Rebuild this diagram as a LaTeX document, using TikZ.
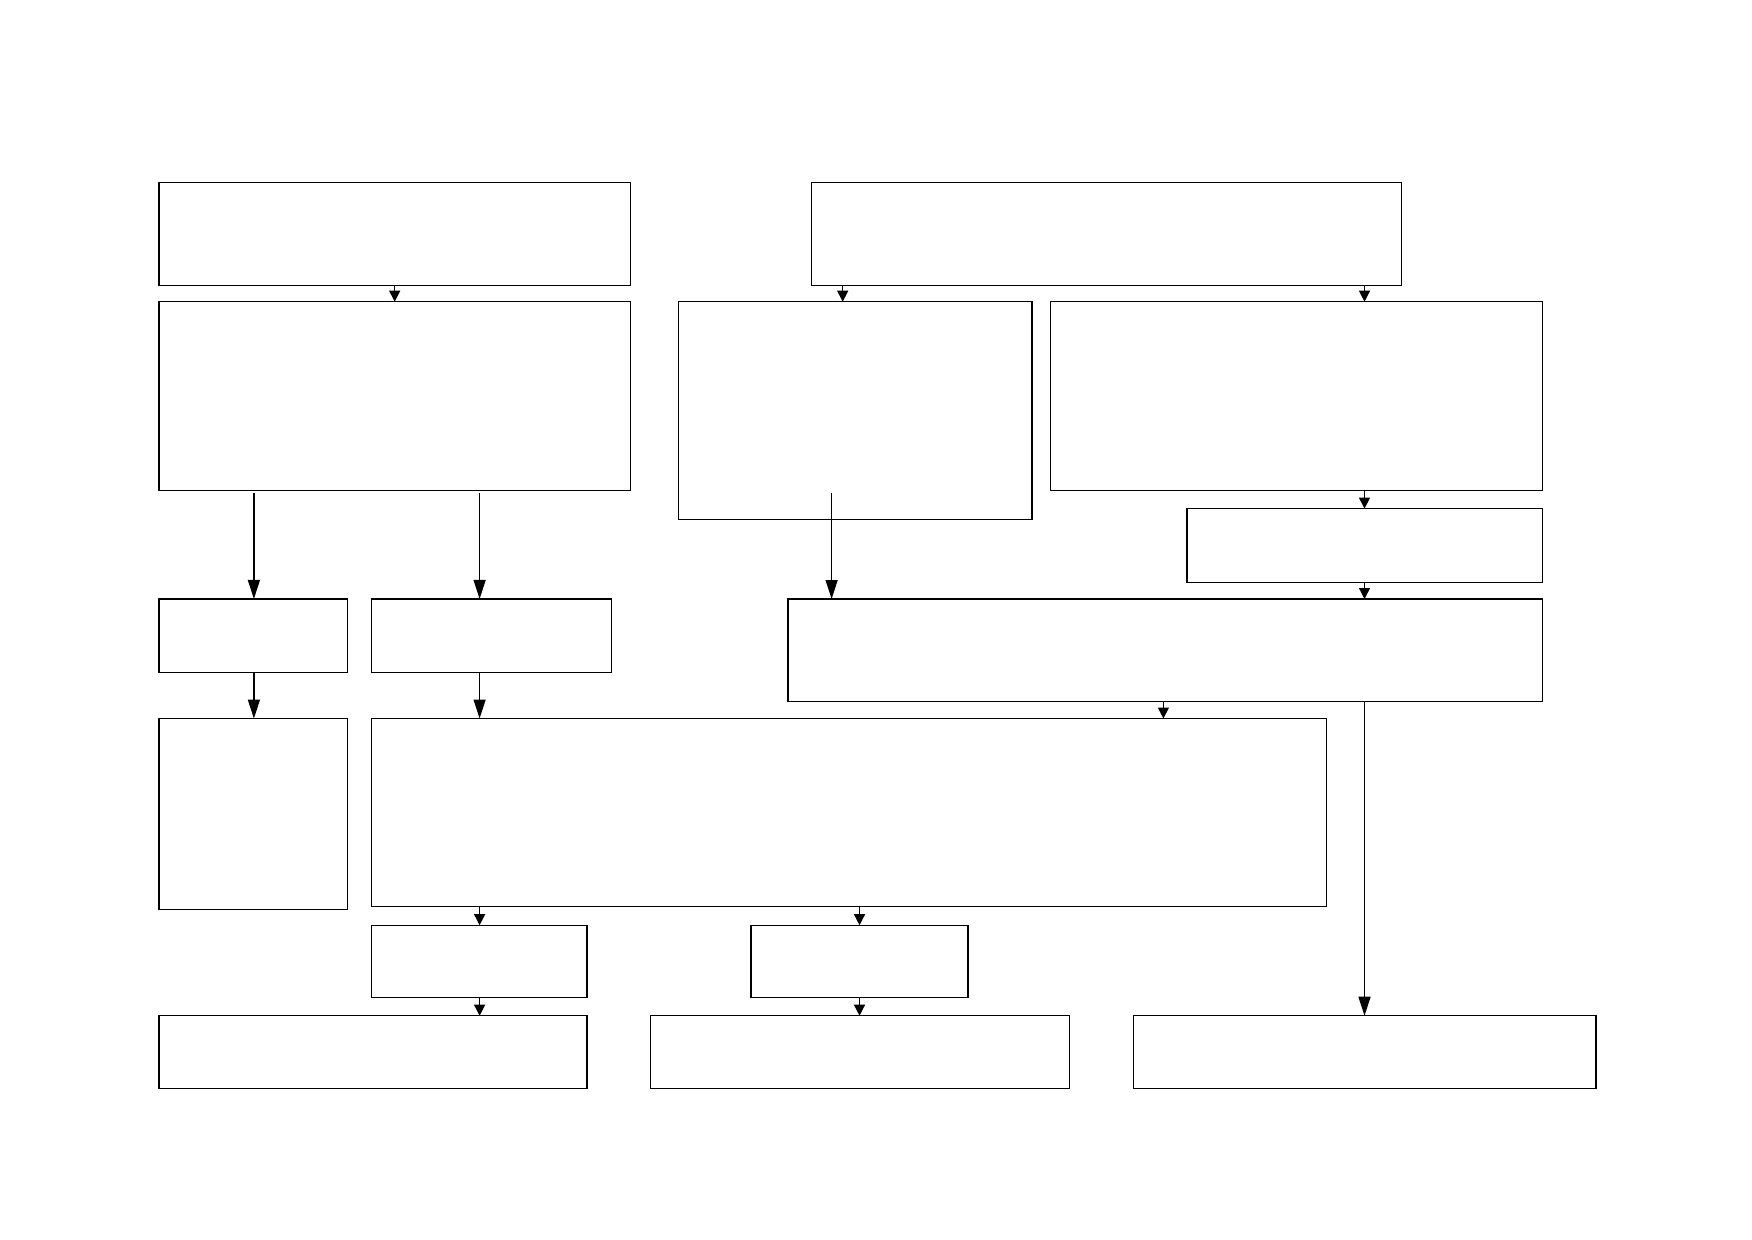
\documentclass[tikz,border=0pt]{standalone}
\usetikzlibrary{arrows.meta}
\begin{document}
\begin{tikzpicture}[x=1pt,y=-1pt,
  box/.style={draw=black,line width=1.3pt,inner sep=0pt,outer sep=0pt,rectangle},
  bigarr/.style={line width=1.3pt,-{Triangle[length=19pt,width=12pt]}},
  smallarr/.style={line width=1.3pt,-{Triangle[length=11pt,width=11pt]}}]
\path[use as bounding box] (0,0) rectangle (1752,1239);
\fill[white] (0,0) rectangle (1752,1239);
\begin{scope}[shift={(0.3,1.2)}]
% boxes
\node[box,minimum width=471.5pt,minimum height=103pt] (A) at (394.5,232.5) {};
\node[box,minimum width=471.5pt,minimum height=189pt] (B) at (394.5,395) {};
\node[box,minimum width=590pt,minimum height=103pt] (C) at (1106.2,232.5) {};
\node[box,minimum width=353.5pt,minimum height=218pt] (D) at (854.8,409.5) {};
\node[box,minimum width=491.6pt,minimum height=189pt] (E) at (1296.1,395) {};
\node[box,minimum width=355.3pt,minimum height=74pt] (F) at (1364.3,544.4) {};
\node[box,minimum width=754.2pt,minimum height=102.8pt] (G) at (1164.8,649.2) {};
\node[box,minimum width=188.8pt,minimum height=73.7pt] (H) at (253.1,634.6) {};
\node[box,minimum width=240.2pt,minimum height=73.7pt] (I) at (491.1,634.6) {};
\node[box,minimum width=188.8pt,minimum height=191pt] (J) at (253.1,812.9) {};
\node[box,minimum width=955.2pt,minimum height=188.2pt] (K) at (848.6,811.4) {};
\node[box,minimum width=215.6pt,minimum height=72.6pt] (L) at (478.8,960.3) {};
\node[box,minimum width=216.8pt,minimum height=72.6pt] (M) at (859.2,960.3) {};
\node[box,minimum width=427.9pt,minimum height=72.6pt] (N) at (372.7,1050.8) {};
\node[box,minimum width=419pt,minimum height=72.6pt] (O) at (859.8,1050.8) {};
\node[box,minimum width=462.5pt,minimum height=72.6pt] (P) at (1364.3,1050.8) {};
\coordinate (d0) at (831.3,491.6);
% connectors
\draw[smallarr] (A.south -| 394.4,0) -- (B.north -| 394.4,0);
\draw[smallarr] (C.south -| 842.4,0) -- (D.north -| 842.4,0);
\draw[smallarr] (C.south -| 1364.2,0) -- (E.north -| 1364.2,0);
\draw[bigarr,shorten <=2pt] (B.south -| 253.6,0) -- (H.north -| 253.6,0);
\draw[bigarr,shorten <=2pt] (B.south -| 479.3,0) -- (I.north -| 479.3,0);
\draw[bigarr] (d0) -- (G.north -| d0);
\draw[smallarr] (E.south -| 1364.2,0) -- (F.north -| 1364.2,0);
\draw[smallarr] (F.south -| 1364.2,0) -- (G.north -| 1364.2,0);
\draw[bigarr] (H.south -| 253.6,0) -- (J.north -| 253.6,0);
\draw[bigarr] (I.south -| 479.3,0) -- (K.north -| 479.3,0);
\draw[smallarr] (G.south -| 1163.1,0) -- (K.north -| 1163.1,0);
\draw[bigarr] (G.south -| 1364.2,0) -- (P.north -| 1364.2,0);
\draw[smallarr] (K.south -| 479.3,0) -- (L.north -| 479.3,0);
\draw[smallarr] (K.south -| 859.2,0) -- (M.north -| 859.2,0);
\draw[smallarr] (L.south -| 479.3,0) -- (N.north -| 479.3,0);
\draw[smallarr] (M.south -| 859.2,0) -- (O.north -| 859.2,0);
\end{scope}
\end{tikzpicture}
\end{document}
